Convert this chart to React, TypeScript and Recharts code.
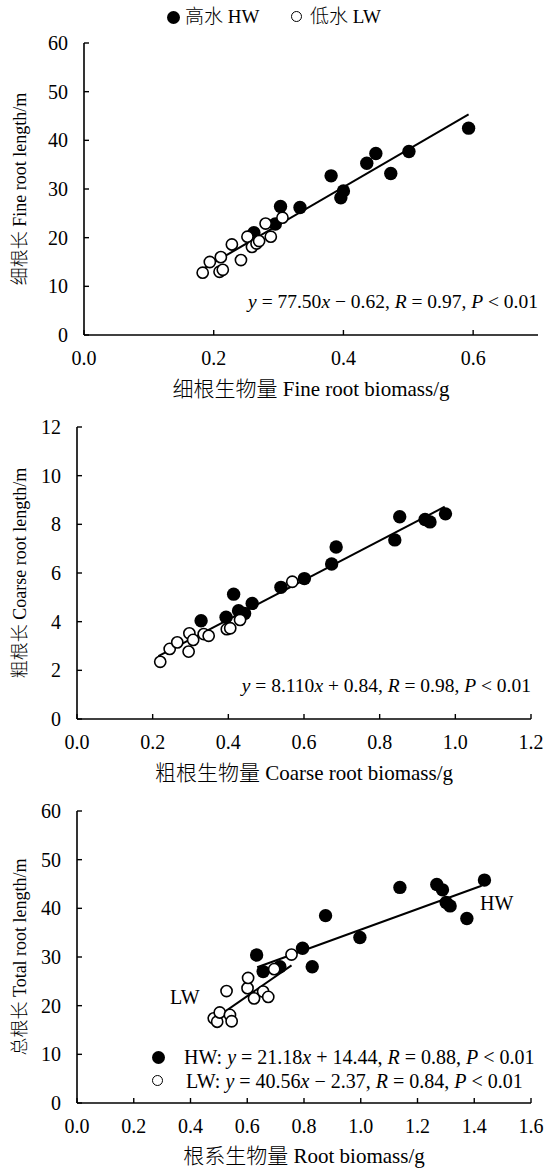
import React from "react"
import { ScatterChart, Scatter, XAxis, YAxis } from "recharts"

const FONT = '"Liberation Serif", "Times New Roman", "Noto Sans CJK SC", serif'

// 细根 fine root: biomass (g) vs length (m)
const fineHwBiomass = [0.262, 0.295, 0.303, 0.333, 0.381, 0.396, 0.4, 0.436, 0.45, 0.473, 0.501, 0.593]
const fineHwLength = [21.0, 22.8, 26.4, 26.2, 32.7, 28.2, 29.6, 35.3, 37.3, 33.2, 37.7, 42.5]
const fineLwBiomass = [0.183, 0.194, 0.209, 0.214, 0.211, 0.228, 0.242, 0.252, 0.259, 0.266, 0.27, 0.28, 0.288, 0.306]
const fineLwLength = [12.8, 15.0, 13.0, 13.4, 16.0, 18.6, 15.4, 20.2, 18.1, 18.8, 19.3, 22.9, 20.2, 24.1]

// 粗根 coarse root
const coarseHwBiomass = [0.328, 0.394, 0.414, 0.427, 0.443, 0.463, 0.539, 0.601, 0.673, 0.685, 0.84, 0.853, 0.92, 0.933, 0.974]
const coarseHwLength = [4.04, 4.18, 5.13, 4.45, 4.34, 4.75, 5.41, 5.77, 6.37, 7.07, 7.36, 8.31, 8.2, 8.1, 8.43]
const coarseLwBiomass = [0.22, 0.245, 0.265, 0.295, 0.297, 0.307, 0.335, 0.348, 0.396, 0.405, 0.431, 0.569]
const coarseLwLength = [2.35, 2.88, 3.15, 2.77, 3.52, 3.25, 3.49, 3.42, 3.69, 3.73, 4.07, 5.64]

// 总根 total root
const totalHwBiomass = [0.633, 0.656, 0.715, 0.795, 0.829, 0.876, 0.997, 1.138, 1.268, 1.288, 1.301, 1.315, 1.374, 1.436]
const totalHwLength = [30.4, 27.0, 28.0, 31.8, 28.0, 38.5, 34.0, 44.3, 44.9, 43.8, 41.2, 40.5, 37.9, 45.8]
const totalLwBiomass = [0.482, 0.494, 0.503, 0.527, 0.539, 0.545, 0.601, 0.603, 0.624, 0.656, 0.674, 0.695, 0.756]
const totalLwLength = [17.4, 16.7, 18.6, 23.0, 18.1, 16.8, 23.6, 25.7, 21.5, 22.9, 21.8, 27.5, 30.5]

// regression fits: slope, intercept, x range
const fineFit = { slope: 77.5, intercept: -0.62, from: 0.18, to: 0.593 }
const coarseFit = { slope: 8.11, intercept: 0.84, from: 0.215, to: 0.972 }
const totalHwFit = { slope: 21.18, intercept: 14.44, from: 0.635, to: 1.426 }
const totalLwFit = { slope: 40.56, intercept: -2.37, from: 0.48, to: 0.756 }

const fineXTicks = [0, 0.2, 0.4, 0.6]
const coarseXTicks = [0, 0.2, 0.4, 0.6, 0.8, 1.0, 1.2]
const totalXTicks = [0, 0.2, 0.4, 0.6, 0.8, 1.0, 1.2, 1.4, 1.6]
const lengthTicks60 = [0, 10, 20, 30, 40, 50, 60]
const lengthTicks12 = [0, 2, 4, 6, 8, 10, 12]

const zip = (xs: number[], ys: number[]) => xs.map((x, i) => ({ x, y: ys[i] }))
const fitPoints = (f: { slope: number; intercept: number; from: number; to: number }) => [
  { x: f.from, y: f.slope * f.from + f.intercept },
  { x: f.to, y: f.slope * f.to + f.intercept },
]

const FilledDot = (p: any) => <circle cx={p.cx} cy={p.cy} r={6.7} fill="#000" />
const OpenDot = (p: any) => <circle cx={p.cx} cy={p.cy} r={5.6} fill="#fff" stroke="#000" strokeWidth={1.6} />
const NoDot = () => <g />

const tickStyle = { fill: "#000", fontSize: 20, fontFamily: FONT }

type PanelProps = {
  top: number
  yWidth: number
  right: number
  xMax: number
  xTicks: number[]
  yMax: number
  yTicks: number[]
  hw: { x: number; y: number }[]
  lw: { x: number; y: number }[]
  fits: { x: number; y: number }[][]
}

function Panel({ top, yWidth, right, xMax, xTicks, yMax, yTicks, hw, lw, fits }: PanelProps) {
  return (
    <div style={{ position: "absolute", left: 0, top }}>
      <ScatterChart width={545} height={380} margin={{ top: 43, right, bottom: 0, left: 0 }}>
        <XAxis
          type="number"
          dataKey="x"
          domain={[0, xMax]}
          ticks={xTicks}
          interval={0}
          allowDataOverflow
          tickFormatter={(v: number) => v.toFixed(1)}
          tickSize={-5}
          tickMargin={21}
          height={45}
          axisLine={{ stroke: "#000", strokeWidth: 1.6 }}
          tickLine={{ stroke: "#000", strokeWidth: 1.4 }}
          tick={tickStyle}
        />
        <YAxis
          type="number"
          dataKey="y"
          domain={[0, yMax]}
          ticks={yTicks}
          interval={0}
          allowDataOverflow
          tickSize={-5}
          tickMargin={21}
          width={yWidth}
          axisLine={{ stroke: "#000", strokeWidth: 1.6 }}
          tickLine={{ stroke: "#000", strokeWidth: 1.4 }}
          tick={tickStyle}
        />
        {fits.map((f, i) => (
          <Scatter
            key={"fit" + i}
            data={f}
            line={{ stroke: "#000", strokeWidth: 2 }}
            shape={NoDot}
            isAnimationActive={false}
          />
        ))}
        <Scatter data={hw} shape={FilledDot} isAnimationActive={false} />
        <Scatter data={lw} shape={OpenDot} isAnimationActive={false} />
      </ScatterChart>
    </div>
  )
}

const text = (style: React.CSSProperties): React.CSSProperties => ({
  position: "absolute",
  fontFamily: FONT,
  fontSize: 20,
  lineHeight: "22px",
  whiteSpace: "nowrap",
  color: "#000",
  ...style,
})

const Cjk = ({ children }: { children: React.ReactNode }) => <span style={{ fontWeight: 300 }}>{children}</span>

function YLabel({ cn, en, center }: { cn: string; en: string; center: number }) {
  return (
    <div
      style={text({
        left: 20,
        top: center,
        fontSize: 18,
        transform: "translate(-50%, -50%) rotate(-90deg)",
      })}
    >
      <Cjk>{cn}</Cjk> {en}
    </div>
  )
}

function XLabel({ cn, en, center, mid }: { cn: string; en: string; center: number; mid: number }) {
  return (
    <div style={text({ left: mid, top: center, fontSize: 21, transform: "translate(-50%, -50%)" })}>
      <Cjk>{cn}</Cjk> {en}
    </div>
  )
}

const Dot = ({ filled, x, y }: { filled: boolean; x: number; y: number }) => (
  <div
    style={{
      position: "absolute",
      left: x - 6.5,
      top: y - 6.5,
      width: filled ? 13 : 9.5,
      height: filled ? 13 : 9.5,
      borderRadius: "50%",
      background: filled ? "#000" : "#fff",
      border: filled ? "none" : "1.6px solid #000",
    }}
  />
)

export default function App() {
  return (
    <div style={{ position: "absolute", left: 0, top: 0, width: 545, height: 1171, background: "#fff" }}>
      <Panel
        top={0}
        yWidth={84}
        right={7}
        xMax={0.7}
        xTicks={fineXTicks}
        yMax={60}
        yTicks={lengthTicks60}
        hw={zip(fineHwBiomass, fineHwLength)}
        lw={zip(fineLwBiomass, fineLwLength)}
        fits={[fitPoints(fineFit)]}
      />
      <Panel
        top={384}
        yWidth={77}
        right={14}
        xMax={1.2}
        xTicks={coarseXTicks}
        yMax={12}
        yTicks={lengthTicks12}
        hw={zip(coarseHwBiomass, coarseHwLength)}
        lw={zip(coarseLwBiomass, coarseLwLength)}
        fits={[fitPoints(coarseFit)]}
      />
      <Panel
        top={768}
        yWidth={77}
        right={14}
        xMax={1.6}
        xTicks={totalXTicks}
        yMax={60}
        yTicks={lengthTicks60}
        hw={zip(totalHwBiomass, totalHwLength)}
        lw={zip(totalLwBiomass, totalLwLength)}
        fits={[fitPoints(totalHwFit), fitPoints(totalLwFit)]}
      />

      {/* legend */}
      <Dot filled x={173} y={17} />
      <div style={text({ left: 185, top: 6, fontSize: 19 })}>
        <Cjk>高水</Cjk> HW
      </div>
      <Dot filled={false} x={297} y={17} />
      <div style={text({ left: 310, top: 6, fontSize: 19 })}>
        <Cjk>低水</Cjk> LW
      </div>

      {/* panel 1 */}
      <YLabel center={189} cn="细根长" en="Fine root length/m" />
      <XLabel center={389} mid={311} cn="细根生物量" en="Fine root biomass/g" />
      <div style={text({ right: 7, top: 291, fontSize: 19.5 })}>
        <i>y</i> = 77.50<i>x</i> − 0.62, <i>R</i> = 0.97, <i>P</i> &lt; 0.01
      </div>

      {/* panel 2 */}
      <YLabel center={573} cn="粗根长" en="Coarse root length/m" />
      <XLabel center={773} mid={304} cn="粗根生物量" en="Coarse root biomass/g" />
      <div style={text({ right: 14, top: 675, fontSize: 19.5 })}>
        <i>y</i> = 8.110<i>x</i> + 0.84, <i>R</i> = 0.98, <i>P</i> &lt; 0.01
      </div>

      {/* panel 3 */}
      <YLabel center={957} cn="总根长" en="Total root length/m" />
      <XLabel center={1156} mid={304} cn="根系生物量" en="Root biomass/g" />
      <div style={text({ left: 480, top: 892 })}>HW</div>
      <div style={text({ left: 170, top: 986 })}>LW</div>
      <Dot filled x={158} y={1057} />
      <div style={text({ left: 184, top: 1046 })}>
        HW: <i>y</i> = 21.18<i>x</i> + 14.44, <i>R</i> = 0.88, <i>P</i> &lt; 0.01
      </div>
      <Dot filled={false} x={158} y={1081} />
      <div style={text({ left: 186, top: 1070 })}>
        LW: <i>y</i> = 40.56<i>x</i> − 2.37, <i>R</i> = 0.84, <i>P</i> &lt; 0.01
      </div>
    </div>
  )
}
